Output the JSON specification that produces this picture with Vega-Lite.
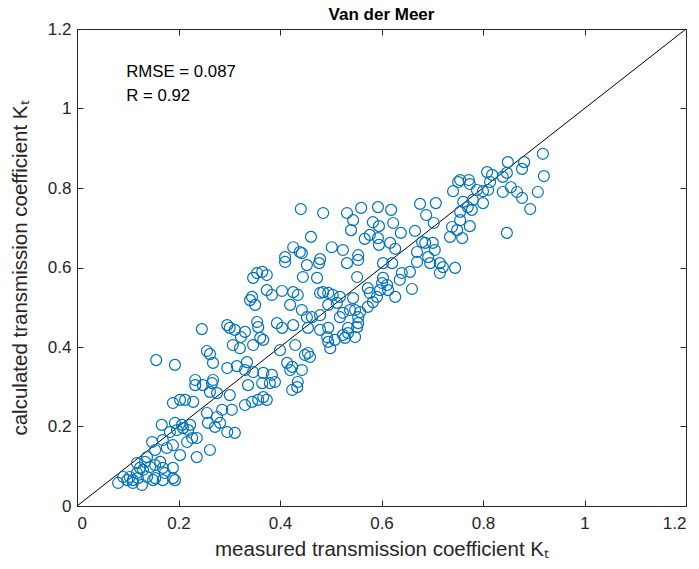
{
"$schema": "https://vega.github.io/schema/vega-lite/v6.json",
"width": 609, "height": 477,
"autosize": {"type": "none"},
"padding": {"left": 77, "top": 29, "right": 13, "bottom": 63},
"background": "white",
"title": {"text": "Van der Meer", "fontSize": 17, "fontWeight": "bold", "font": "Liberation Sans", "color": "#000000", "anchor": "middle", "offset": -4},
"config": {
  "view": {"stroke": "#262626", "strokeWidth": 1},
  "axis": {"domainColor": "#262626", "tickColor": "#262626", "labelColor": "#262626", "labelFont": "Liberation Sans", "labelFontSize": 17, "titleFont": "Liberation Sans", "titleFontSize": 20.5, "titleFontWeight": "normal", "titleColor": "#262626", "tickWidth": 1, "domainWidth": 1, "grid": false}
},
"datasets": {
  "diag": [{"measured": 0, "calculated": 0}, {"measured": 1.2, "calculated": 1.2}],
  "notes": [{"measured": 0.097, "calculated": 1.092, "label": "RMSE = 0.087"}, {"measured": 0.097, "calculated": 1.031, "label": "R = 0.92"}],
  "points": [
{"measured":0.918,"calculated":0.886},{"measured":0.881,"calculated":0.865},{"measured":0.877,"calculated":0.848},{"measured":0.849,"calculated":0.865},{"measured":0.920,"calculated":0.830},{"measured":0.847,"calculated":0.838},{"measured":0.839,"calculated":0.828},{"measured":0.818,"calculated":0.833},{"measured":0.808,"calculated":0.840},{"measured":0.814,"calculated":0.815},{"measured":0.772,"calculated":0.820},{"measured":0.774,"calculated":0.810},{"measured":0.755,"calculated":0.820},{"measured":0.788,"calculated":0.795},{"measured":0.800,"calculated":0.792},{"measured":0.810,"calculated":0.795},{"measured":0.839,"calculated":0.790},{"measured":0.855,"calculated":0.802},{"measured":0.867,"calculated":0.790},{"measured":0.877,"calculated":0.775},{"measured":0.908,"calculated":0.790},{"measured":0.893,"calculated":0.747},{"measured":0.780,"calculated":0.770},{"measured":0.770,"calculated":0.752},{"measured":0.778,"calculated":0.745},{"measured":0.800,"calculated":0.762},{"measured":0.761,"calculated":0.765},{"measured":0.755,"calculated":0.740},{"measured":0.774,"calculated":0.704},{"measured":0.847,"calculated":0.687},{"measured":0.759,"calculated":0.674},{"measured":0.755,"calculated":0.719},
{"measured":0.741,"calculated":0.792},{"measured":0.751,"calculated":0.815},{"measured":0.676,"calculated":0.760},{"measured":0.707,"calculated":0.762},{"measured":0.688,"calculated":0.732},{"measured":0.703,"calculated":0.712},{"measured":0.666,"calculated":0.692},{"measured":0.739,"calculated":0.702},{"measured":0.735,"calculated":0.677},{"measured":0.749,"calculated":0.694},{"measured":0.532,"calculated":0.737},{"measured":0.560,"calculated":0.750},{"measured":0.593,"calculated":0.752},{"measured":0.619,"calculated":0.745},{"measured":0.544,"calculated":0.719},{"measured":0.540,"calculated":0.694},{"measured":0.583,"calculated":0.714},{"measured":0.595,"calculated":0.704},{"measured":0.623,"calculated":0.712},{"measured":0.638,"calculated":0.687},{"measured":0.567,"calculated":0.672},{"measured":0.577,"calculated":0.682},{"measured":0.593,"calculated":0.674},{"measured":0.595,"calculated":0.657},{"measured":0.617,"calculated":0.662},{"measured":0.627,"calculated":0.647},{"measured":0.524,"calculated":0.644},{"measured":0.554,"calculated":0.631},{"measured":0.680,"calculated":0.664},{"measured":0.686,"calculated":0.662},{"measured":0.701,"calculated":0.662},{"measured":0.670,"calculated":0.639},{"measured":0.692,"calculated":0.626},{"measured":0.705,"calculated":0.644},
{"measured":0.441,"calculated":0.747},{"measured":0.485,"calculated":0.737},{"measured":0.461,"calculated":0.677},{"measured":0.426,"calculated":0.651},{"measured":0.439,"calculated":0.639},{"measured":0.443,"calculated":0.636},{"measured":0.410,"calculated":0.626},{"measured":0.479,"calculated":0.621},{"measured":0.502,"calculated":0.651},
{"measured":0.410,"calculated":0.614},{"measured":0.453,"calculated":0.606},{"measured":0.477,"calculated":0.611},{"measured":0.355,"calculated":0.586},{"measured":0.365,"calculated":0.589},{"measured":0.374,"calculated":0.581},{"measured":0.445,"calculated":0.576},{"measured":0.473,"calculated":0.574},{"measured":0.347,"calculated":0.574},{"measured":0.374,"calculated":0.543},{"measured":0.404,"calculated":0.541},{"measured":0.384,"calculated":0.531},{"measured":0.426,"calculated":0.538},{"measured":0.435,"calculated":0.531},{"measured":0.345,"calculated":0.526},{"measured":0.351,"calculated":0.506},{"measured":0.341,"calculated":0.518},{"measured":0.420,"calculated":0.506},{"measured":0.443,"calculated":0.493},{"measured":0.485,"calculated":0.538},{"measured":0.495,"calculated":0.536},{"measured":0.504,"calculated":0.531},{"measured":0.479,"calculated":0.536},{"measured":0.512,"calculated":0.511},{"measured":0.495,"calculated":0.506},{"measured":0.355,"calculated":0.463},{"measured":0.357,"calculated":0.450},{"measured":0.394,"calculated":0.460},{"measured":0.404,"calculated":0.448},{"measured":0.426,"calculated":0.455},{"measured":0.453,"calculated":0.475},{"measured":0.463,"calculated":0.475},{"measured":0.479,"calculated":0.480},{"measured":0.455,"calculated":0.448},{"measured":0.479,"calculated":0.443},{"measured":0.495,"calculated":0.448},{"measured":0.493,"calculated":0.425},{"measured":0.495,"calculated":0.413},{"measured":0.499,"calculated":0.397},{"measured":0.508,"calculated":0.418},{"measured":0.296,"calculated":0.455},{"measured":0.301,"calculated":0.448},{"measured":0.311,"calculated":0.443},{"measured":0.331,"calculated":0.438},{"measured":0.323,"calculated":0.425},{"measured":0.307,"calculated":0.405},{"measured":0.321,"calculated":0.397},{"measured":0.347,"calculated":0.405},{"measured":0.361,"calculated":0.423},{"measured":0.367,"calculated":0.418},{"measured":0.400,"calculated":0.392},{"measured":0.430,"calculated":0.405},{"measured":0.449,"calculated":0.380},{"measured":0.459,"calculated":0.375},{"measured":0.455,"calculated":0.385},{"measured":0.414,"calculated":0.360},{"measured":0.424,"calculated":0.350},{"measured":0.420,"calculated":0.342},{"measured":0.443,"calculated":0.342},{"measured":0.296,"calculated":0.347},{"measured":0.315,"calculated":0.352},{"measured":0.335,"calculated":0.362},{"measured":0.331,"calculated":0.342},{"measured":0.347,"calculated":0.337},{"measured":0.367,"calculated":0.335},{"measured":0.384,"calculated":0.330},
{"measured":0.246,"calculated":0.445},{"measured":0.256,"calculated":0.390},{"measured":0.262,"calculated":0.382},{"measured":0.268,"calculated":0.360},{"measured":0.156,"calculated":0.367},{"measured":0.193,"calculated":0.355},{"measured":0.233,"calculated":0.317},{"measured":0.268,"calculated":0.317},
{"measured":0.233,"calculated":0.304},{"measured":0.248,"calculated":0.304},{"measured":0.266,"calculated":0.309},{"measured":0.262,"calculated":0.287},{"measured":0.276,"calculated":0.284},{"measured":0.189,"calculated":0.259},{"measured":0.203,"calculated":0.267},{"measured":0.213,"calculated":0.267},{"measured":0.229,"calculated":0.262},{"measured":0.256,"calculated":0.234},{"measured":0.276,"calculated":0.224},{"measured":0.258,"calculated":0.209},{"measured":0.272,"calculated":0.199},{"measured":0.167,"calculated":0.204},{"measured":0.193,"calculated":0.209},{"measured":0.207,"calculated":0.204},{"measured":0.223,"calculated":0.204},{"measured":0.183,"calculated":0.186},{"measured":0.197,"calculated":0.191},{"measured":0.209,"calculated":0.196},{"measured":0.219,"calculated":0.191},{"measured":0.227,"calculated":0.171},{"measured":0.236,"calculated":0.171},{"measured":0.217,"calculated":0.161},{"measured":0.169,"calculated":0.166},{"measured":0.148,"calculated":0.161},{"measured":0.189,"calculated":0.153},{"measured":0.177,"calculated":0.146},{"measured":0.154,"calculated":0.141},{"measured":0.203,"calculated":0.128},{"measured":0.236,"calculated":0.123},{"measured":0.262,"calculated":0.141},{"measured":0.138,"calculated":0.123},{"measured":0.118,"calculated":0.108},{"measured":0.134,"calculated":0.111},{"measured":0.144,"calculated":0.098},{"measured":0.124,"calculated":0.096},{"measured":0.130,"calculated":0.091},{"measured":0.154,"calculated":0.103},{"measured":0.169,"calculated":0.096},{"measured":0.164,"calculated":0.111},{"measured":0.189,"calculated":0.096},{"measured":0.118,"calculated":0.083},{"measured":0.104,"calculated":0.073},{"measured":0.099,"calculated":0.065},{"measured":0.110,"calculated":0.065},{"measured":0.120,"calculated":0.070},{"measured":0.138,"calculated":0.073},{"measured":0.154,"calculated":0.070},{"measured":0.173,"calculated":0.083},{"measured":0.169,"calculated":0.065},{"measured":0.193,"calculated":0.065},{"measured":0.110,"calculated":0.058},{"measured":0.128,"calculated":0.053},{"measured":0.081,"calculated":0.058},{"measured":0.091,"calculated":0.073},{"measured":0.150,"calculated":0.065},{"measured":0.189,"calculated":0.070},
{"measured":0.337,"calculated":0.304},{"measured":0.365,"calculated":0.309},{"measured":0.380,"calculated":0.309},{"measured":0.390,"calculated":0.312},{"measured":0.424,"calculated":0.292},{"measured":0.434,"calculated":0.299},{"measured":0.435,"calculated":0.312},{"measured":0.301,"calculated":0.279},{"measured":0.331,"calculated":0.254},{"measured":0.345,"calculated":0.262},{"measured":0.357,"calculated":0.267},{"measured":0.367,"calculated":0.274},{"measured":0.374,"calculated":0.267},{"measured":0.286,"calculated":0.242},{"measured":0.305,"calculated":0.242},{"measured":0.282,"calculated":0.209},{"measured":0.296,"calculated":0.186},{"measured":0.311,"calculated":0.184},
{"measured":0.532,"calculated":0.611},{"measured":0.554,"calculated":0.619},{"measured":0.603,"calculated":0.611},{"measured":0.621,"calculated":0.611},{"measured":0.670,"calculated":0.614},{"measured":0.696,"calculated":0.611},{"measured":0.715,"calculated":0.611},{"measured":0.721,"calculated":0.601},{"measured":0.715,"calculated":0.586},{"measured":0.745,"calculated":0.599},{"measured":0.640,"calculated":0.586},{"measured":0.656,"calculated":0.589},{"measured":0.636,"calculated":0.569},{"measured":0.552,"calculated":0.576},{"measured":0.603,"calculated":0.574},{"measured":0.601,"calculated":0.561},{"measured":0.611,"calculated":0.556},{"measured":0.573,"calculated":0.548},{"measured":0.577,"calculated":0.536},{"measured":0.597,"calculated":0.543},{"measured":0.613,"calculated":0.543},{"measured":0.660,"calculated":0.546},{"measured":0.591,"calculated":0.526},{"measured":0.627,"calculated":0.526},{"measured":0.583,"calculated":0.513},{"measured":0.573,"calculated":0.501},{"measured":0.544,"calculated":0.523},{"measured":0.518,"calculated":0.526},{"measured":0.548,"calculated":0.493},{"measured":0.558,"calculated":0.488},{"measured":0.554,"calculated":0.475},{"measured":0.538,"calculated":0.493},{"measured":0.524,"calculated":0.486},{"measured":0.518,"calculated":0.475},{"measured":0.554,"calculated":0.460},{"measured":0.552,"calculated":0.450},{"measured":0.534,"calculated":0.448},{"measured":0.534,"calculated":0.435},{"measured":0.524,"calculated":0.430},{"measured":0.548,"calculated":0.425},{"measured":0.528,"calculated":0.423}
  ]
},
"layer": [
  {
    "data": {"name": "diag"},
    "mark": {"type": "line", "color": "#000000", "strokeWidth": 1, "clip": true},
    "encoding": {
      "x": {"field": "measured", "type": "quantitative", "scale": {"domain": [0, 1.2], "nice": false, "zero": false},
            "axis": {"orient": "top", "labels": false, "title": null, "domain": false, "values": [0, 0.2, 0.4, 0.6, 0.8, 1, 1.2], "tickSize": -6, "minExtent": 0, "maxExtent": 0}},
      "y": {"field": "calculated", "type": "quantitative", "scale": {"domain": [0, 1.2], "nice": false, "zero": false},
            "axis": {"orient": "right", "labels": false, "title": null, "domain": false, "values": [0, 0.2, 0.4, 0.6, 0.8, 1, 1.2], "tickSize": -6, "minExtent": 0, "maxExtent": 0}}
    }
  },
  {
    "data": {"name": "points"},
    "mark": {"type": "point", "shape": "circle", "filled": false, "color": "#0072BD", "size": 120, "strokeWidth": 1.2, "opacity": 1},
    "encoding": {
      "x": {"field": "measured", "type": "quantitative",
            "axis": {"orient": "bottom", "title": "measured transmission coefficient Kₜ", "format": "~g", "values": [0, 0.2, 0.4, 0.6, 0.8, 1, 1.2], "tickSize": -6, "labelPadding": 15, "titlePadding": 8}},
      "y": {"field": "calculated", "type": "quantitative",
            "axis": {"orient": "left", "title": "calculated transmission coefficient Kₜ", "format": "~g", "values": [0, 0.2, 0.4, 0.6, 0.8, 1, 1.2], "tickSize": -6, "labelPadding": 12, "titlePadding": 17}}
    }
  },
  {
    "data": {"name": "notes"},
    "mark": {"type": "text", "align": "left", "baseline": "middle", "font": "Liberation Sans", "fontSize": 16.8, "color": "#000000"},
    "encoding": {
      "x": {"field": "measured", "type": "quantitative", "axis": null},
      "y": {"field": "calculated", "type": "quantitative", "axis": null},
      "text": {"field": "label"}
    }
  }
],
"resolve": {"axis": {"x": "independent", "y": "independent"}}
}
